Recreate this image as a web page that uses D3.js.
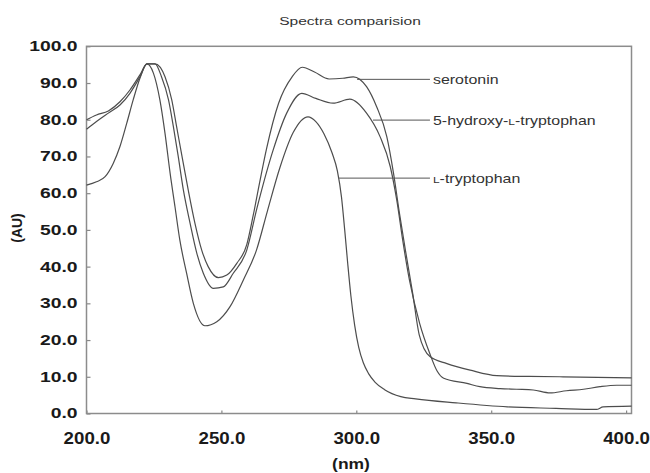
<!DOCTYPE html>
<html>
<head>
<meta charset="utf-8">
<script src="https://cdn.jsdelivr.net/npm/d3@7"></script>
<style>
    body { margin: 0; background: #fff; }
    text { font-family: 'Liberation Sans', Arial, sans-serif; }
</style>
</head>
<body>
<svg id="chart"></svg>
<script>
// wavelength (nm) / absorbance (AU) pairs
const serotonin = [
    [200, 80.0], [203.7, 81.3], [208.1, 82.4], [212.4, 84.9], [216.1, 88.1],
    [219.8, 92.2], [222.4, 95.2], [225.4, 95.2], [229.1, 91.7], [231.6, 85.4],
    [233.4, 78.1], [235.4, 70.0], [237.7, 60.9], [240.2, 51.8], [242.7, 44.5],
    [245.1, 40.0], [248.9, 37.0], [252.0, 37.7], [255.7, 40.9], [259.4, 46.0],
    [261.8, 54.0], [264.2, 63.0], [266.7, 72.0], [271.2, 84.5], [276.2, 91.7],
    [280.0, 94.3], [284.5, 93.0], [289.9, 91.1], [295.0, 91.3], [298.9, 91.7],
    [303.8, 89.0], [307.5, 83.6], [311.3, 75.4], [313.8, 65.4], [316.0, 54.5],
    [318.4, 43.6], [320.9, 32.7], [323.3, 21.5], [327.3, 15.5], [333.6, 13.6],
    [342.2, 11.8], [352.1, 10.3], [364.0, 10.1], [376.6, 10.0], [402, 9.7]
];
const hydroxyTryptophan = [
    [200, 77.4], [203.7, 79.5], [208.1, 81.8], [212.4, 84.0], [216.1, 87.2],
    [219.8, 91.7], [222.4, 95.2], [225.4, 95.2], [227.8, 91.7], [230.4, 85.4],
    [232.2, 78.1], [234.0, 70.0], [235.9, 60.9], [238.4, 51.8], [240.9, 43.6],
    [243.3, 38.2], [247.0, 34.1], [250.7, 34.5], [254.4, 38.2], [259.4, 44.5],
    [263.2, 56.0], [269.2, 71.8], [274.2, 81.8], [279.8, 87.2], [285.0, 85.8],
    [291.4, 84.5], [297.6, 85.6], [303.8, 81.8], [308.8, 75.4], [312.6, 67.2],
    [315.0, 58.1], [317.2, 47.2], [319.7, 36.3], [323.5, 24.5], [327.2, 16.4],
    [330.0, 11.5], [332.4, 9.6], [341.0, 8.2], [345.8, 7.3], [353.3, 6.8],
    [359.4, 6.6], [365.6, 6.4], [371.8, 5.6], [377.9, 6.2], [384.2, 6.6],
    [390.3, 7.3], [396.5, 7.7], [402, 7.7]
];
const tryptophan = [
    [200, 62.2], [203.7, 63.1], [206.9, 64.5], [209.9, 68.1], [212.4, 72.7],
    [214.9, 79.0], [217.3, 85.4], [219.8, 91.3], [222.4, 95.2], [224.8, 92.7],
    [227.2, 85.4], [229.1, 76.3], [231.0, 65.4], [232.8, 56.3], [234.6, 47.2],
    [237.1, 38.2], [239.6, 30.0], [243.9, 23.9], [248.3, 25.0], [253.2, 29.1],
    [258.1, 36.3], [263.0, 44.5], [267.0, 55.0], [271.7, 67.0], [276.6, 76.5],
    [282.1, 80.8], [285.0, 79.5], [288.0, 76.2], [291.0, 71.0], [293.0, 66.0],
    [294.5, 59.0], [295.7, 50.0], [296.8, 41.0], [298.0, 32.0], [299.4, 24.0],
    [300.9, 18.0], [302.6, 13.8], [304.6, 10.8], [307.0, 8.5], [310.5, 6.5],
    [316.5, 4.6], [322.0, 4.0], [337.0, 2.9], [356.0, 1.8], [374.0, 1.4],
    [389.0, 1.1], [391.5, 1.8], [402, 2.0]
];

const seriesNames = ['serotonin', '5-hydroxy-L-tryptophan', 'L-tryptophan'];
// where each leader line touches its curve (nm, AU)
const labelAnchors = [[300.3, 91.0], [306.2, 79.9], [293.6, 64.1]];
const nmTicks = [200, 250, 300, 350, 400];
const auTicks = [0, 10, 20, 30, 40, 50, 60, 70, 80, 90, 100];

const W = 650, H = 473;
const margin = { top: 46.3, right: 18.5, bottom: 59.5, left: 86.5 };
const width = W - margin.left - margin.right;
const height = H - margin.top - margin.bottom;
const font = "'Liberation Sans', Arial, sans-serif";

const svg = d3.select('#chart').attr('width', W).attr('height', H)
    .style('background-color', 'white');

const g = svg.append('g')
    .attr('transform', `translate(${margin.left},${margin.top})`);

const x = d3.scaleLinear().domain([200, 402]).range([0, width]);
const y = d3.scaleLinear().domain([0, 100]).range([height, 0]);

// text in the original is stretched sideways
function stretch(sel, sx) {
    sel.attr('x', function () { return (+this.getAttribute('x') || 0) / sx; })
        .attr('transform', `scale(${sx},1)`);
}

const yAxis = g.append('g')
    .call(d3.axisLeft(y).tickValues(auTicks).tickFormat(d3.format('.1f'))
        .tickSize(-4).tickPadding(9));
yAxis.select('.domain').remove();
yAxis.selectAll('line').attr('stroke', '#888').attr('stroke-width', 1.2);
yAxis.selectAll('text')
    .style('font-family', font).style('font-size', '14px').style('font-weight', 'bold')
    .attr('fill', '#1a1a1a')
    .call(stretch, 1.38);

const xAxis = g.append('g')
    .attr('transform', `translate(0,${height})`)
    .call(d3.axisBottom(x).tickValues(nmTicks).tickFormat(d3.format('.1f'))
        .tickSize(-3).tickPadding(18));
xAxis.select('.domain').remove();
xAxis.selectAll('line').attr('stroke', '#888').attr('stroke-width', 1.2);
xAxis.selectAll('text')
    .style('font-family', font).style('font-size', '17px').style('font-weight', 'bold')
    .attr('fill', '#1a1a1a')
    .call(stretch, 1.1);

// plot frame
g.append('rect')
    .attr('width', width).attr('height', height)
    .attr('fill', 'none').attr('stroke', '#8c8c8c').attr('stroke-width', 1.5);

const line = d3.line()
    .x(d => x(d[0]))
    .y(d => y(d[1]))
    .curve(d3.curveMonotoneX);

g.append('g').selectAll('path')
    .data([serotonin, hydroxyTryptophan, tryptophan])
    .join('path')
    .attr('d', line)
    .attr('fill', 'none')
    .attr('stroke', '#4d4d4d')
    .attr('stroke-width', 1.2);

// leader lines + labels
const leaderEnd = 327.3;
const labels = g.append('g');
labelAnchors.forEach((a, i) => {
    labels.append('line')
        .attr('x1', x(a[0])).attr('x2', x(leaderEnd))
        .attr('y1', y(a[1])).attr('y2', y(a[1]))
        .attr('stroke', '#555').attr('stroke-width', 1);
    const t = labels.append('text')
        .attr('transform', `translate(${x(leaderEnd) + 3},${y(a[1]) + 4.5}) scale(1.33,1)`)
        .style('font-family', font).style('font-size', '12px')
        .attr('fill', '#333');
    // small-caps L as in the original
    seriesNames[i].split(/(L)/).forEach(part => {
        if (!part) return;
        t.append('tspan')
            .style('font-size', part === 'L' ? '9px' : null)
            .text(part);
    });
});

// title and axis titles
svg.append('text')
    .attr('transform', `translate(350,25) scale(1.33,1)`)
    .attr('text-anchor', 'middle')
    .style('font-family', font).style('font-size', '11.7px')
    .attr('fill', '#333')
    .text('Spectra comparision');

svg.append('text')
    .attr('transform', `translate(351,469) scale(1.25,1)`)
    .attr('text-anchor', 'middle')
    .style('font-family', font).style('font-size', '14px').style('font-weight', 'bold')
    .attr('fill', '#1a1a1a')
    .text('(nm)');

svg.append('text')
    .attr('transform', `translate(21.5,228) rotate(-90)`)
    .attr('text-anchor', 'middle')
    .style('font-family', font).style('font-size', '14px').style('font-weight', 'bold')
    .attr('fill', '#1a1a1a')
    .text('(AU)');
</script>
</body>
</html>
